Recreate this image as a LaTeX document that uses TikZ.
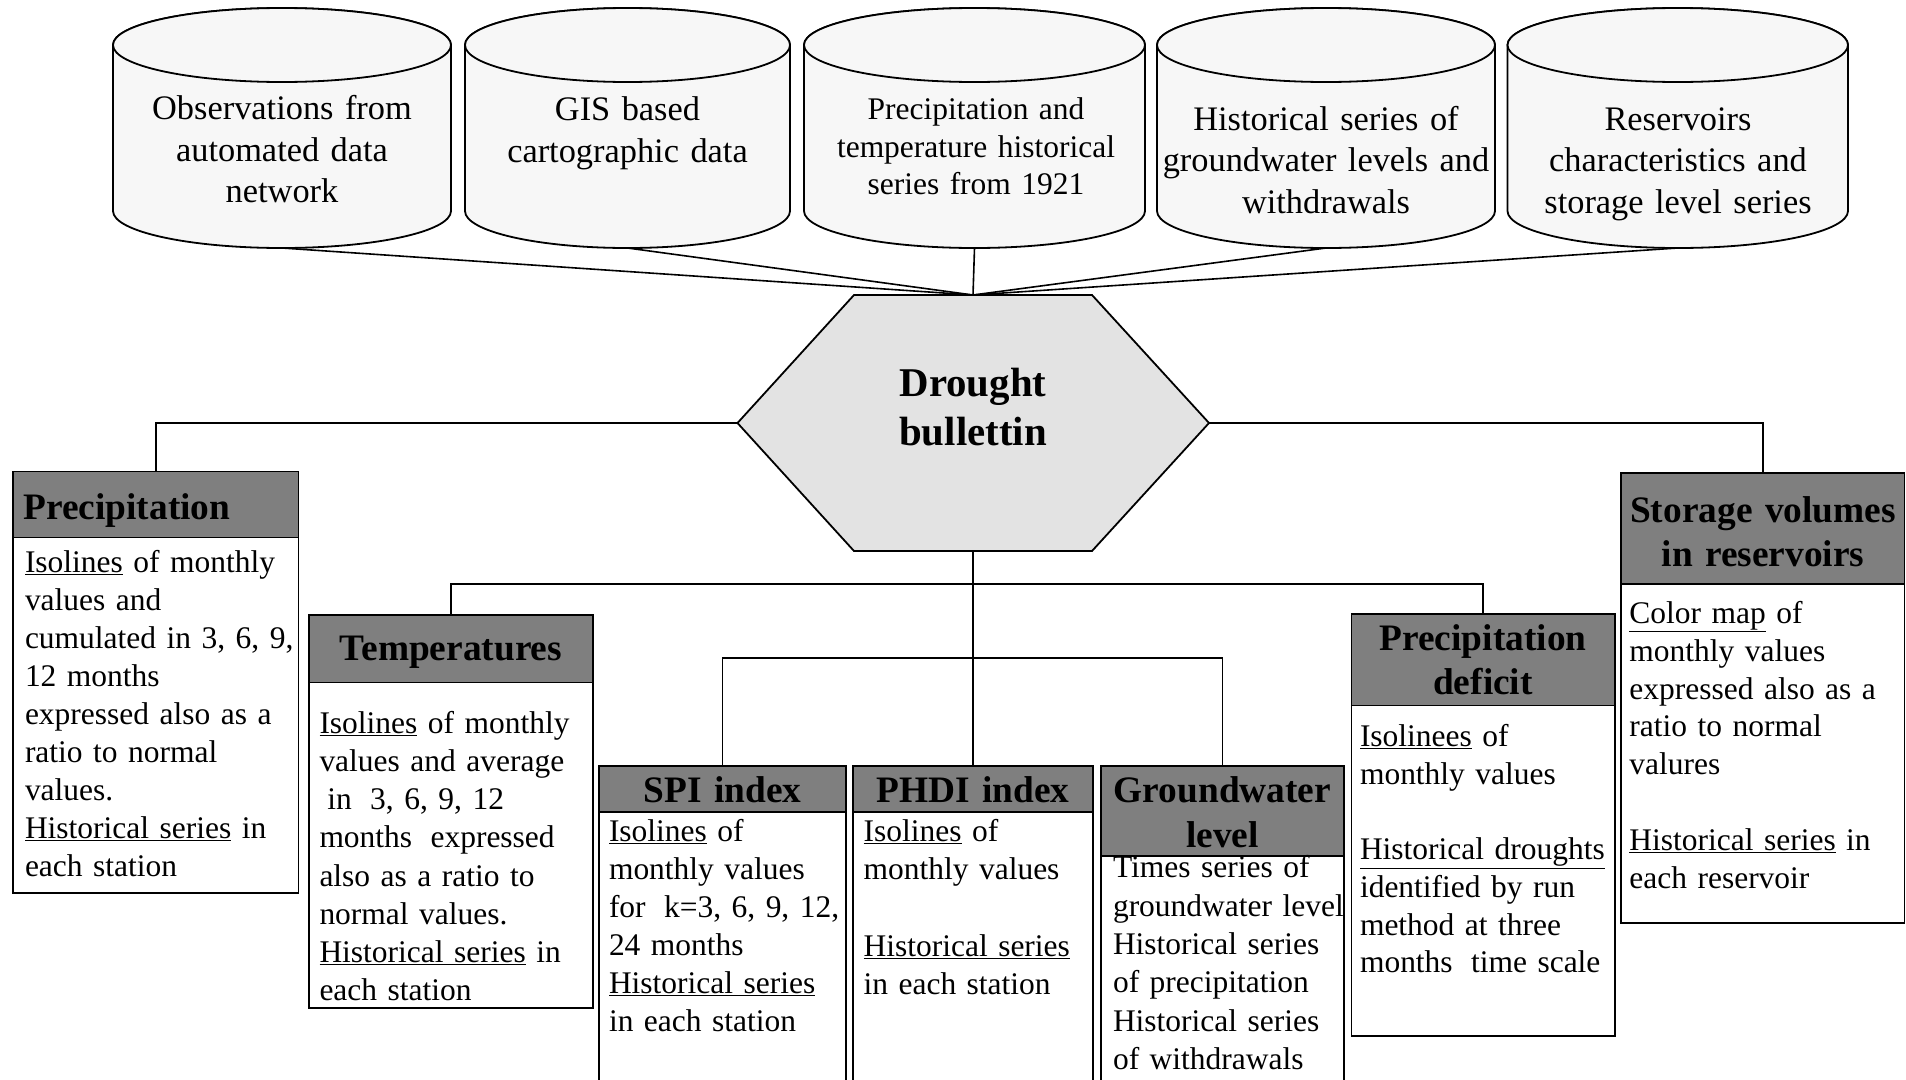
\documentclass[tikz,border=0pt]{standalone}
\usepackage{fontspec}
\setmainfont{Liberation Serif}
\definecolor{hdrgray}{RGB}{127,127,127}
\definecolor{drumfill}{RGB}{247,247,247}
\definecolor{hubfill}{RGB}{227,227,227}
\newcommand\bodyfont[1]{\fontsize{31.6}{#1}\selectfont}
\newcommand\headfont{\bfseries\fontsize{37.5}{44.5}\selectfont}
% a data-store drum: name of its foot, left edge, right edge
\newcommand\drum[3]{%
  \pgfmathsetmacro\dcx{(#2+#3)/2}%
  \pgfmathsetmacro\drx{(#3-#2)/2}%
  \filldraw[drumline] (#2,45) -- (#2,211)
    arc[start angle=180, end angle=0, x radius=\drx, y radius=37]
    -- (#3,45)
    arc[start angle=0, end angle=-180, x radius=\drx, y radius=37] -- cycle;
  \draw[drumline] (\dcx,45) ellipse[x radius=\drx, y radius=37];
  \coordinate (#1) at (\dcx,248);
}
% a framed panel: style, name, x1, y1, x2, y2
\newcommand\panel[6]{%
  \node[#1, minimum width={(#5-#3)*1bp}, minimum height={(#6-#4)*1bp}] (#2) at (#3,#4) {};}
\begin{document}
\begin{tikzpicture}[x=1bp, y=-1bp,
  wire/.style={line width=1.6bp},
  drumline/.style={draw=black, line width=1.8bp, fill=drumfill},
  hdrbox/.style={draw, line width=1.8bp, fill=hdrgray, inner sep=0, outer sep=0, anchor=north west},
  bodybox/.style={draw, line width=1.8bp, fill=white, inner sep=0, outer sep=0, anchor=north west},
  bodytxt/.style={inner sep=0, outer sep=0, anchor=base west, text width=330bp, align=left},
  headtxt/.style={inner sep=0, outer sep=0, anchor=base, text width=300bp, align=center, font=\headfont},
  drumtxt/.style={inner sep=0, outer sep=0, anchor=base, text width=340bp, align=center},
]
\path[use as bounding box] (0,0) rectangle (1906,1079);
\clip (0,0) rectangle (1906,1079);

% data sources
\drum{s1}{113}{451}
\drum{s2}{465}{790}
\drum{s3}{804}{1145}
\drum{s4}{1157}{1495}
\drum{s5}{1507.5}{1848}
\node[drumtxt, font=\fontsize{34.5}{42}\selectfont] (t1) at (282,119.3) {Observations from\\automated data\\network};
\node[drumtxt, font=\fontsize{34.5}{42}\selectfont] (t2) at (627.5,120.7) {GIS based\\cartographic data};
\node[drumtxt, font=\fontsize{31.6}{37.7}\selectfont] (t3) at (976,119.6) {Precipitation and\\temperature historical\\series from 1921};
\node[drumtxt, font=\fontsize{34.5}{41.7}\selectfont] (t4) at (1326,130) {Historical series of\\groundwater levels and\\withdrawals};
\node[drumtxt, font=\fontsize{34.5}{41.7}\selectfont] (t5) at (1678,130) {Reservoirs\\characteristics and\\storage level series};

% central hub
\coordinate (hexT) at (973,295);
\coordinate (hexB) at (973,551);
\coordinate (hexL) at (737.5,423);
\coordinate (hexR) at (1209,423);
\filldraw[draw=black, line width=1.8bp, fill=hubfill]
  (854,295) -- (1092,295) -- (hexR) -- (1092,551) -- (854,551) -- (hexL) -- cycle;
\node[inner sep=0, anchor=base, text width=300bp, align=center,
      font=\bfseries\fontsize{41}{50}\selectfont] (hub) at (973,396) {Drought\\bullettin};

% sources feed the bulletin
\foreach \s in {s1,s2,s3,s4,s5} \draw[wire] (\s) -- (hexT);

% Precipitation
\panel{hdrbox}{pH}{13}{471.5}{298.5}{537.5}
\panel{bodybox}{pB}{13}{537.5}{298.5}{893}
\node[bodytxt, font=\headfont] (pHt) at (23.5,519) {Precipitation};
\node[bodytxt, font=\bodyfont{38.1}] (pBt) at (25,572.4) {\underline{Isolines} of monthly\\values and\\cumulated in 3, 6, 9,\\12 months\\expressed also as a\\ratio to normal\\values.\\\underline{Historical series} in\\each station};

% Temperatures
\panel{hdrbox}{tH}{309}{615}{593}{682.4}
\panel{bodybox}{tB}{309}{682.4}{593}{1007.6}
\node[headtxt] (tHt) at (451,660) {Temperatures};
\node[bodytxt, font=\bodyfont{38.3}] (tBt) at (319.5,733.5) {\underline{Isolines} of monthly\\values and average\\\hspace*{0.25em}in\hspace*{0.25em} 3, 6, 9, 12\\months\hspace*{0.25em} expressed\\also as a ratio to\\normal values.\\\underline{Historical series} in\\each station};

% SPI index
\panel{hdrbox}{spiH}{599}{766}{846}{811.7}
\panel{bodybox}{spiB}{599}{811.7}{846}{1100}
\node[headtxt] (spiHt) at (722.5,802.7) {SPI index};
\node[bodytxt, font=\bodyfont{38.2}] (spiBt) at (609,841.7) {\underline{Isolines} of\\monthly values\\for\hspace*{0.25em} k=3, 6, 9, 12,\\24 months\\\underline{Historical series}\\in each station};

% PHDI index
\panel{hdrbox}{phH}{853}{766}{1093}{811.7}
\panel{bodybox}{phB}{853}{811.7}{1093}{1100}
\node[headtxt] (phHt) at (973,802.7) {PHDI index};
\node[bodytxt, font=\bodyfont{38.2}] (phBt) at (863.6,841.7) {\underline{Isolines} of\\monthly values\\[38.2bp]\underline{Historical series}\\in each station};

% Groundwater level
\panel{hdrbox}{gwH}{1101}{766}{1344}{856}
\panel{bodybox}{gwB}{1101}{856}{1344}{1100}
\node[headtxt] (gwHt) at (1222.5,802.7) {Groundwater\\level};
\node[bodytxt, font=\bodyfont{38.5}] (gwBt) at (1113,877.7) {Times series of\\groundwater level\\Historical series\\of precipitation\\Historical series\\of withdrawals};

% Precipitation deficit
\panel{hdrbox}{dH}{1351.5}{613.7}{1615}{705.5}
\panel{bodybox}{dB}{1351.5}{705.5}{1615}{1035.6}
\node[headtxt] (dHt) at (1483,650.6) {Precipitation\\deficit};
\node[bodytxt, font=\bodyfont{37.8}] (dBt) at (1360,746.8) {\underline{Isolinees} of\\monthly values\\[37.8bp]\underline{Historical droughts}\\identified by run\\method at three\\months\hspace*{0.25em} time scale};

% Storage volumes in reservoirs
\panel{hdrbox}{rH}{1621.3}{473.3}{1904.5}{583.6}
\panel{bodybox}{rB}{1621.3}{583.6}{1904.5}{923.3}
\node[headtxt] (rHt) at (1763,522.2) {Storage volumes\\in reservoirs};
\node[bodytxt, font=\bodyfont{38}] (rBt) at (1629.4,623.3) {\underline{Color map} of\\monthly values\\expressed also as a\\ratio to normal\\valures\\[38bp]\underline{Historical series} in\\each reservoir};

% bulletin branches
\coordinate (j1) at (973,584);
\coordinate (j2) at (973,658);
\draw[wire] (hexL) -| (pH.north);
\draw[wire] (hexR) -| (rH.north);
\draw[wire] (hexB) -- (j1) -- (j2) -- (phH.north);
\draw[wire] (tH.north) |- (j1) -| (dH.north);
\draw[wire] (spiH.north) |- (j2) -| (gwH.north);
\end{tikzpicture}
\end{document}
